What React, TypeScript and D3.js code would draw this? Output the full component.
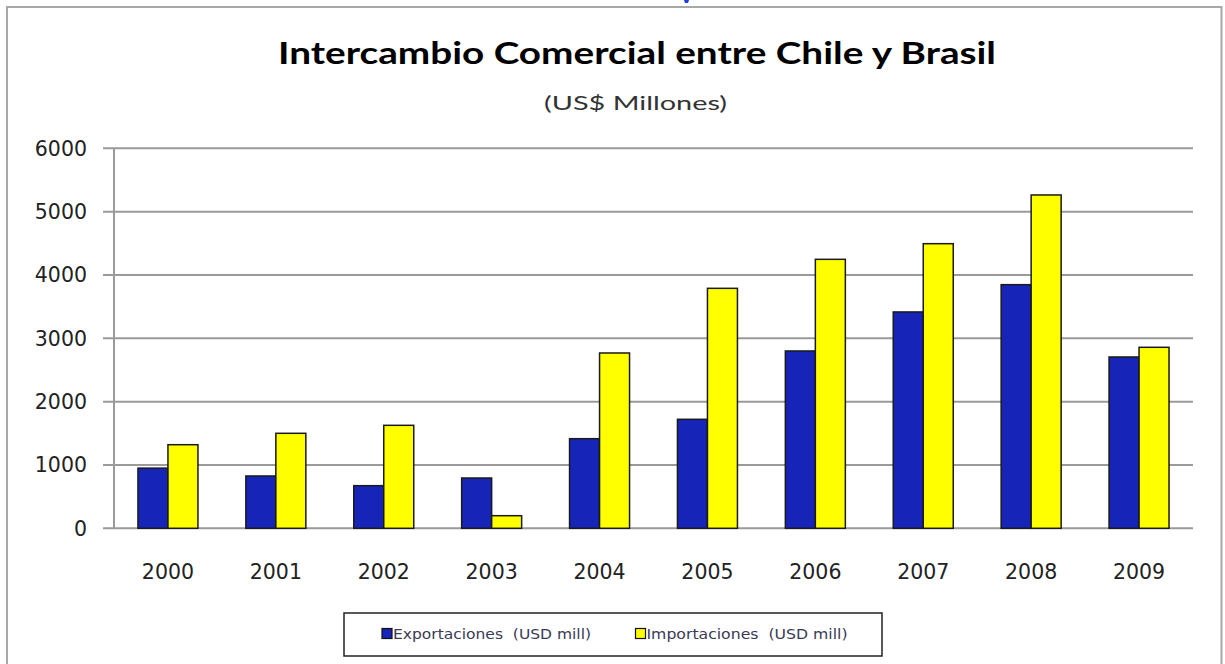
import React from "react";
import * as d3 from "d3";

const years = ["2000", "2001", "2002", "2003", "2004", "2005", "2006", "2007", "2008", "2009"];
const exportaciones = [950, 826, 673, 794, 1415, 1721, 2800, 3416, 3847, 2705];
const importaciones = [1320, 1500, 1626, 199, 2768, 3789, 4247, 4494, 5263, 2858];
const yTicks = [0, 1000, 2000, 3000, 4000, 5000, 6000];
const seriesKeys = ["exp", "imp"];
const seriesNames = ["Exportaciones  (USD mill)", "Importaciones  (USD mill)"];
const seriesColors = ["#1624b8", "#ffff00"];

export default function App() {
  const W = 1225, H = 664;
  const left = 114, right = 1193, top = 148.3, bottom = 528.3;
  const x0 = d3.scaleBand<string>().domain(years).range([left, right]).paddingInner(0.444).paddingOuter(0.222);
  const x1 = d3.scaleBand<string>().domain(seriesKeys).range([0, x0.bandwidth()]);
  const y = d3.scaleLinear().domain([0, 6000]).range([bottom, top]);
  const values = [exportaciones, importaciones];

  return (
    <svg width={W} height={H} style={{ position: "absolute", left: 0, top: 0, background: "#fff" }}>
      <rect x={0} y={0} width={W} height={H} fill="#fff" />
      {/* outer frame */}
      <rect x={7} y={7} width={1214.5} height={720} fill="none" stroke="#a8a8a8" strokeWidth={2} />
      {/* tiny clipped mark at top */}
      <path d="M684,0 L689,0 L688,3 L685,3 Z" fill="#2040e0" />

      <text x={637} y={63.5} textAnchor="middle" fontFamily="Lato, 'Open Sans', sans-serif" fontWeight="bold" fontSize={31} fill="#000" textLength={718} lengthAdjust="spacingAndGlyphs">
        Intercambio Comercial entre Chile y Brasil
      </text>
      <text x={635.5} y={109.5} textAnchor="middle" fontFamily="Lato, 'Open Sans', sans-serif" fontSize={20} fill="#333" textLength={183} lengthAdjust="spacingAndGlyphs">
        (US$ Millones)
      </text>

      {/* gridlines & ticks */}
      {yTicks.map((t) => (
        <g key={t}>
          <line x1={103} x2={right} y1={y(t)} y2={y(t)} stroke="#9a9a9a" strokeWidth={2} />
          <text x={87} y={y(t) + 7.5} textAnchor="end" fontFamily="'DejaVu Sans', Verdana, sans-serif" fontSize={20.5} fill="#222">
            {t}
          </text>
        </g>
      ))}
      <line x1={left} x2={left} y1={top} y2={bottom} stroke="#9a9a9a" strokeWidth={2} />

      {/* bars */}
      {years.map((yr, i) => (
        <g key={yr} transform={`translate(${x0(yr)},0)`}>
          {seriesKeys.map((k, s) => (
            <rect
              key={k}
              x={x1(k)}
              y={y(values[s][i])}
              width={x1.bandwidth()}
              height={y(0) - y(values[s][i])}
              fill={seriesColors[s]}
              stroke="#1a1a1a"
              strokeWidth={1.5}
            />
          ))}
          <text x={x0.bandwidth() / 2} y={579} textAnchor="middle" fontFamily="'DejaVu Sans', Verdana, sans-serif" fontSize={20.5} fill="#222">
            {yr}
          </text>
        </g>
      ))}

      {/* legend */}
      <rect x={344} y={613} width={538} height={43} fill="#fff" stroke="#222" strokeWidth={1.5} />
      {[0, 1].map((s) => {
        const sx = s === 0 ? 382 : 635.5;
        const tl = s === 0 ? 198 : 201;
        return (
          <g key={s}>
            <rect x={sx} y={628.5} width={10} height={10} fill={seriesColors[s]} stroke="#111" strokeWidth={1.2} />
            <text x={sx + 11} y={639} fontFamily="'DejaVu Sans', Verdana, sans-serif" fontSize={13.5} fill="#3a3a55" textLength={tl} lengthAdjust="spacingAndGlyphs" style={{ whiteSpace: "pre" }}>
              {seriesNames[s]}
            </text>
          </g>
        );
      })}
    </svg>
  );
}
